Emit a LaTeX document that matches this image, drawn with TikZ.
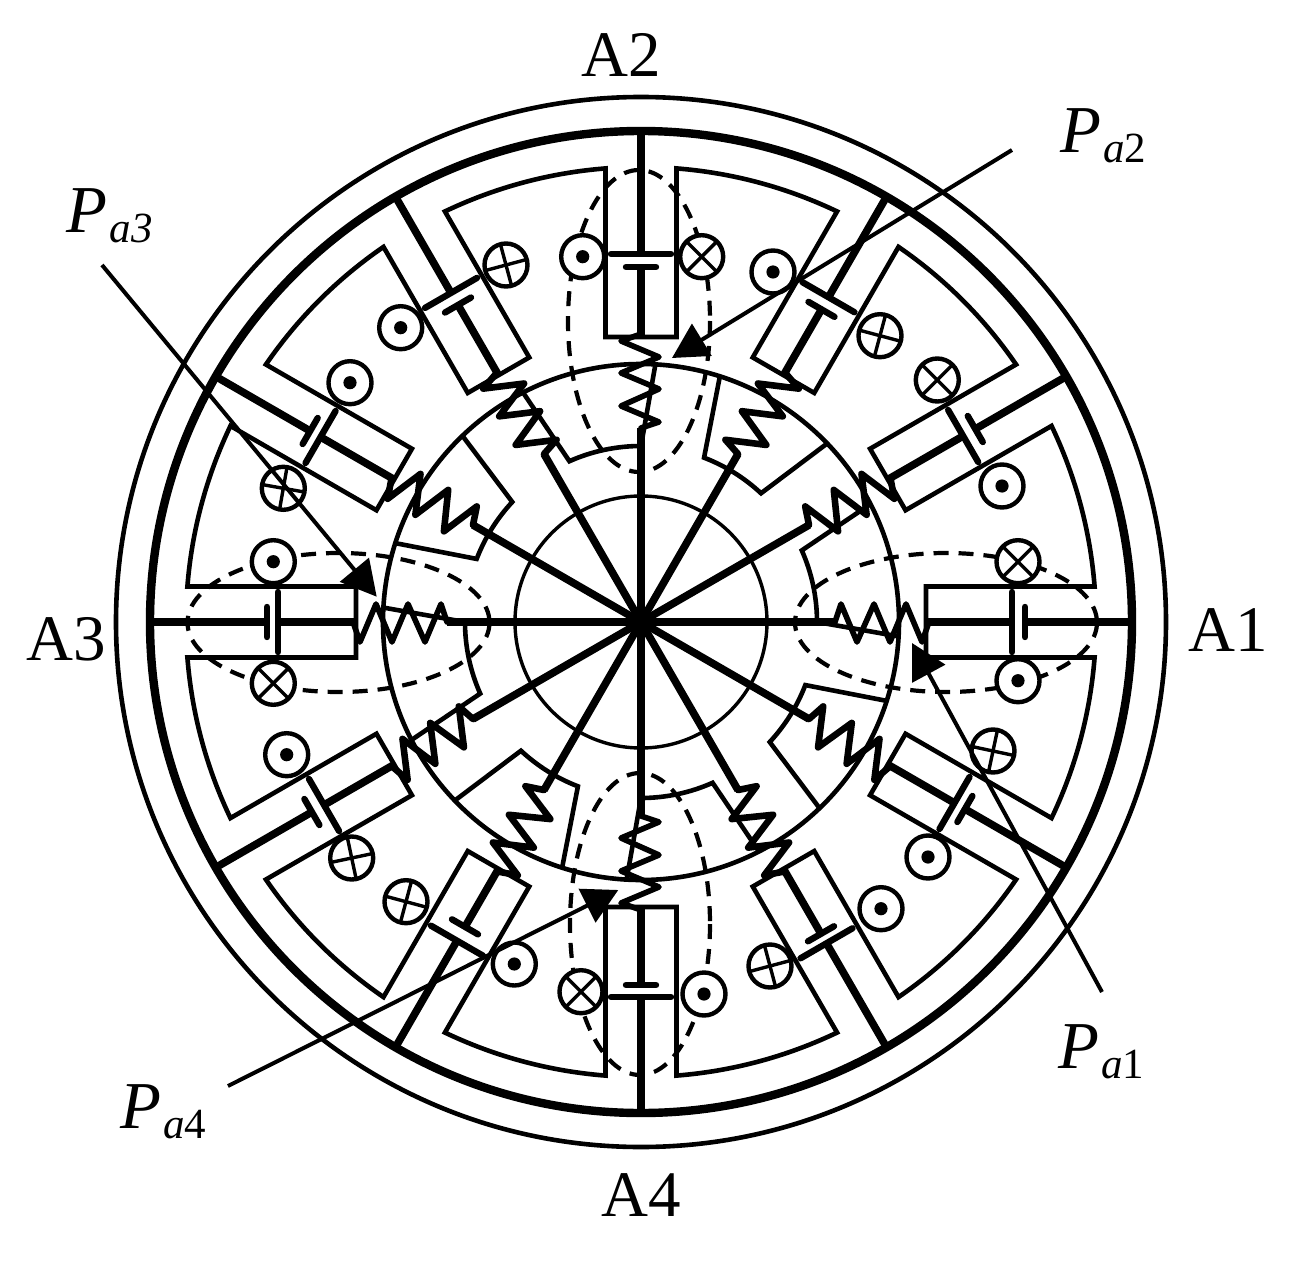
\documentclass[tikz,border=0pt]{standalone}
\usepackage{fontspec}
\setmainfont{Liberation Serif}
\usetikzlibrary{arrows.meta}
\tikzset{
  thinline/.style={line width=4.6pt,line join=miter},
  wire/.style={line width=7.6pt},
  plate/.style={line width=6.4pt,line cap=round},
  axisspring/.style={line width=5.6pt,line join=round,line cap=round},
  diagspring/.style={line width=6.6pt,line join=round,line cap=round},
  fluxpath/.style={line width=4.2pt,dash pattern=on 15pt off 10pt},
  coilsym/.style={circle,draw,fill=white,line width=4.4pt,minimum size=43pt,inner sep=0pt},
  pointer/.style={line width=4pt,-{Triangle[length=35pt,width=37pt]}},
  bigtext/.style={anchor=base west,inner sep=0pt,font=\fontsize{65pt}{65pt}\selectfont},
  ptext/.style={anchor=base west,inner sep=0pt,font=\fontsize{67pt}{67pt}\selectfont}
}
\newcommand{\subs}[1]{\raisebox{-10pt}{\kern2pt\fontsize{43pt}{43pt}\selectfont #1}}
\begin{document}
\begin{tikzpicture}[x=1pt,y=1pt]
\useasboundingbox[fill=white] (-641,-642) rectangle (656,622);
% yoke circles
\draw[line width=4.6pt] (0,0) circle (525);
\draw[line width=8.4pt] (0,0) circle (491);
\draw[line width=4.6pt] (0,0) circle (258);
\draw[line width=3.4pt] (0,0) circle (126);
% stator slots
\draw[thinline] (-7.1:287.2)
  foreach \t in {0,30,...,330} {
    -- ({\t+7.1}:287.2) -- ({\t+4.47}:455)
    arc[start angle=\t+4.47,end angle=\t+25.53,radius=455]
    -- ({\t+30-7.1}:287.2)
  } -- cycle;
% rotor poles
\foreach \a/\b in {0/24,47/69,90/114,137/159,180/204,227/249,270/294,317/339}
  \draw[thinline] ({\a-3.2}:258) -- (\a:176)
    arc[start angle=\a,end angle=\b,radius=176] -- ({\b+3.2}:258);
% teeth: spokes, springs, batteries
\foreach \t/\s/\ri/\li/\ro/\lo/\sp in {
  0/1/371/30/384/15/axisspring,
  30/1/372/30/386/15/diagspring,
  60/1/361/15/375/30/diagspring,
  90/-1/355/15/368/30/axisspring,
  120/-1/366/15/380/30/diagspring,
  150/-1/370/30/382/15/diagspring,
  180/-1/363/30/374/15/axisspring,
  210/-1/366/30/380/15/diagspring,
  240/-1/352/15/368/30/diagspring,
  270/1/363/15/375/30/axisspring,
  300/1/360/15/371/30/diagspring,
  330/1/362/30/374/15/diagspring}{
  \begin{scope}[rotate=\t]
    \draw[wire] (0,0) -- (194,0);
    \draw[\sp] (194,0) -- (200,18*\s) -- (216,-20*\s) -- (233,18*\s)
      -- (249,-20*\s) -- (265,18*\s) -- (281,-20*\s) -- (288,0);
    \draw[wire] (287,0) -- (\ri,0);
    \draw[wire] (\ro,0) -- (491,0);
    \draw[plate] (\ri,-\li) -- (\ri,\li);
    \draw[plate] (\ro,-\lo) -- (\ro,\lo);
  \end{scope}
}
% everything below in reference pixel coordinates
\begin{scope}[shift={(-641pt,622pt)},x=1pt,y=-1pt]
  \draw[fluxpath] (639,321) ellipse [x radius=71,y radius=151];
  \draw[fluxpath] (946,622.5) ellipse [x radius=151,y radius=69.5];
  \draw[fluxpath] (338.5,622.5) ellipse [x radius=151,y radius=69.5];
  \draw[fluxpath] (640,924) ellipse [x radius=70,y radius=151];
  % dots
  \foreach \n/\x/\y in {d1/582.7/256.7,d2/773/272,d3/1002/486,d4/1018/680.7,d5/928/857,
     d6/881/908.7,d7/704/994,d8/514.3/964,d9/286.7/754.7,d10/273.3/561.7,d11/350/382.7,d12/400.7/327.7}{
    \node[coilsym] (\n) at (\x,\y) {};
    \fill (\n.center) circle (6.6);
  }
  % crosses
  \foreach \n/\x/\y/\r in {c1/701.7/256.7/45,c2/880/335.7/15,c3/937.3/380/45,c4/1018/561.7/45,
     c5/993/751/12,c6/770/966/-15,c7/581/991.7/45,c8/406/901.7/15,c9/351.7/858/-12,
     c10/273.3/683.3/45,c11/283.3/488.3/10,c12/506/265/-15}{
    \node[coilsym] (\n) at (\x,\y) {};
    \draw[line width=3.4pt] (\n.center) ++(\r:20) -- ++(\r+180:40);
    \draw[line width=3.4pt] (\n.center) ++(\r+90:20) -- ++(\r+270:40);
  }
  % pointers
  \coordinate (s1) at (1102,992);  \coordinate (e1) at (912,643);
  \coordinate (s2) at (1012,150);  \coordinate (e2) at (672,358);
  \coordinate (s3) at (102,265);   \coordinate (e3) at (376.7,596.7);
  \coordinate (s4) at (228,1086);  \coordinate (e4) at (618.3,890);
  \draw[pointer] (s1) -- (e1);
  \draw[pointer] (s2) -- (e2);
  \draw[pointer] (s3) -- (e3);
  \draw[pointer] (s4) -- (e4);
  % labels
  \node[bigtext] (A1) at (1188,651) {A1};
  \node[bigtext] (A2) at (581,76.5) {A2};
  \node[bigtext] (A3) at (26,660) {A3};
  \node[bigtext] (A4) at (601,1216) {A4};
  \node[ptext] (P1) at (1058,1068) {\textit{P}\subs{\textit{a}1}};
  \node[ptext] (P2) at (1060,153) {\textit{P}\subs{\textit{a}2}};
  \node[ptext] (P3) at (66.7,232.7) {\textit{P}\subs{\textit{a3}}};
  \node[ptext] (P4) at (120,1128) {\textit{P}\subs{\textit{a}4}};
\end{scope}
\end{tikzpicture}
\end{document}
